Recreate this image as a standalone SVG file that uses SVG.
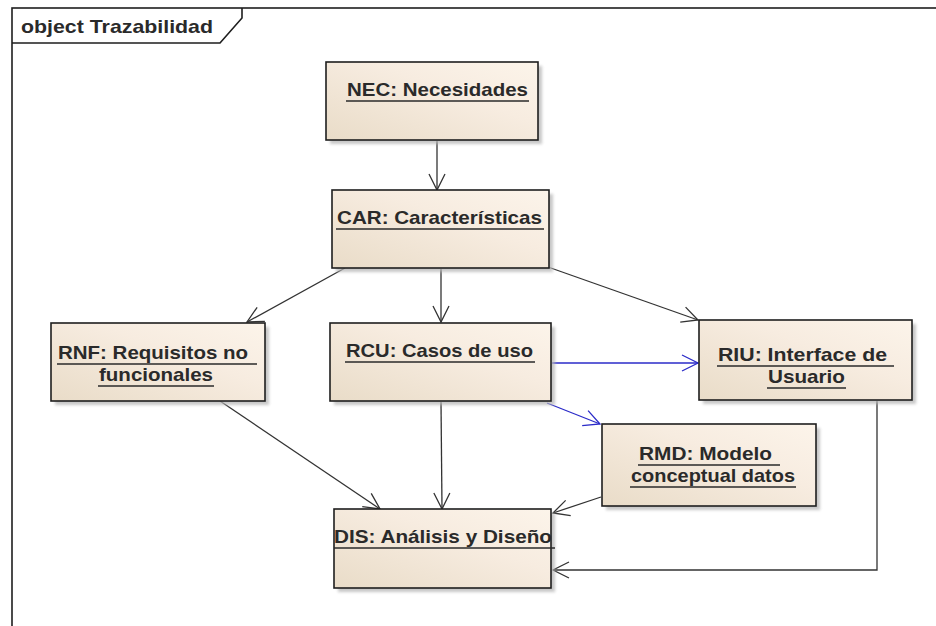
<svg xmlns="http://www.w3.org/2000/svg" width="936" height="626" viewBox="0 0 936 626">
<defs>
<linearGradient id="bg" x1="0" y1="1" x2="1" y2="0">
<stop offset="0" stop-color="#e9dcc8"/>
<stop offset="0.6" stop-color="#f7ece0"/>
<stop offset="1" stop-color="#fcf4ea"/>
</linearGradient>
<filter id="blur" x="-10%" y="-10%" width="120%" height="130%">
<feGaussianBlur stdDeviation="1.5"/>
</filter>
<marker id="ah" viewBox="0 0 20 20" refX="18" refY="10" markerWidth="20" markerHeight="20" markerUnits="userSpaceOnUse" orient="auto">
<path d="M2,2 L18,10 L2,18" fill="none" stroke="#333" stroke-width="1.3"/>
</marker>
<marker id="ahb" viewBox="0 0 20 20" refX="18" refY="10" markerWidth="20" markerHeight="20" markerUnits="userSpaceOnUse" orient="auto">
<path d="M2,2 L18,10 L2,18" fill="none" stroke="#2b2bc8" stroke-width="1.3"/>
</marker>
</defs>
<style>
.box{fill:url(#bg);stroke:#1e1e1e;stroke-width:1.6}
.sh{fill:#b5b5b5;opacity:0.75;filter:url(#blur)}
.t{font-family:"Liberation Sans",Arial,sans-serif;font-weight:bold;font-size:19px;fill:#2a2a2a}
.u{stroke:#2a2a2a;stroke-width:1.3}
.c{fill:none;stroke:#333;stroke-width:1.3;marker-end:url(#ah)}
.cb{fill:none;stroke:#2b2bc8;stroke-width:1.3;marker-end:url(#ahb)}
</style>
<rect width="936" height="626" fill="#ffffff"/>
<g id="frame">
<rect x="12" y="8" width="940" height="640" fill="none" stroke="#1e1e1e" stroke-width="1.6"/>
<polyline points="12,43 220,43 242,18 242,8" fill="none" stroke="#1e1e1e" stroke-width="1.6"/>
<text x="21" y="33" class="t" font-size="20" textLength="192" lengthAdjust="spacingAndGlyphs">object Trazabilidad</text>
</g>
<g id="connectors">
<line class="c" x1="437" y1="141" x2="437" y2="190"/>
<line class="c" x1="345" y1="268" x2="247" y2="322"/>
<line class="c" x1="441" y1="269" x2="441" y2="322"/>
<line class="c" x1="548" y1="267" x2="698" y2="320"/>
<line class="cb" x1="552" y1="363" x2="698" y2="363"/>
<line class="cb" x1="547" y1="403" x2="600" y2="424"/>
<line class="c" x1="220" y1="401" x2="380" y2="509"/>
<line class="c" x1="441" y1="402" x2="442" y2="509"/>
<line class="c" x1="601" y1="497" x2="553" y2="513"/>
<polyline class="c" points="877,401 877,570 553,570"/>
</g>
<g id="NEC">
<rect class="sh" x="330" y="66" width="212" height="78"/>
<rect class="box" x="326" y="62" width="212" height="78"/>
<text x="347" y="96" class="t" textLength="181" lengthAdjust="spacingAndGlyphs">NEC: Necesidades</text>
<line class="u" x1="346" y1="101" x2="529" y2="101"/>
</g>
<g id="CAR">
<rect class="sh" x="336" y="194" width="217" height="78"/>
<rect class="box" x="332" y="190" width="217" height="78"/>
<text x="337" y="224" class="t" textLength="205" lengthAdjust="spacingAndGlyphs">CAR: Características</text>
<line class="u" x1="336" y1="229" x2="544" y2="229"/>
</g>
<g id="RNF">
<rect class="sh" x="55" y="327" width="214" height="78"/>
<rect class="box" x="51" y="323" width="214" height="78"/>
<text x="58" y="359" class="t" textLength="190" lengthAdjust="spacingAndGlyphs">RNF: Requisitos no</text>
<line class="u" x1="57" y1="364" x2="257" y2="364"/>
<text x="99" y="381" class="t" textLength="114" lengthAdjust="spacingAndGlyphs">funcionales</text>
<line class="u" x1="98" y1="386" x2="214" y2="386"/>
</g>
<g id="RCU">
<rect class="sh" x="334" y="327" width="221" height="78"/>
<rect class="box" x="330" y="323" width="221" height="78"/>
<text x="346" y="357" class="t" textLength="187" lengthAdjust="spacingAndGlyphs">RCU: Casos de uso</text>
<line class="u" x1="345" y1="362" x2="535" y2="362"/>
</g>
<g id="RIU">
<rect class="sh" x="703" y="324" width="213" height="80"/>
<rect class="box" x="699" y="320" width="213" height="80"/>
<text x="718" y="361" class="t" textLength="169" lengthAdjust="spacingAndGlyphs">RIU: Interface de</text>
<line class="u" x1="717" y1="366" x2="894" y2="366"/>
<text x="768" y="383" class="t" textLength="77" lengthAdjust="spacingAndGlyphs">Usuario</text>
<line class="u" x1="767" y1="388" x2="846" y2="388"/>
</g>
<g id="RMD">
<rect class="sh" x="606" y="428" width="214" height="82"/>
<rect class="box" x="602" y="424" width="214" height="82"/>
<text x="639" y="460" class="t" textLength="133" lengthAdjust="spacingAndGlyphs">RMD: Modelo</text>
<line class="u" x1="638" y1="465" x2="780" y2="465"/>
<text x="631" y="482" class="t" textLength="164" lengthAdjust="spacingAndGlyphs">conceptual datos</text>
<line class="u" x1="630" y1="487" x2="796" y2="487"/>
</g>
<g id="DIS">
<rect class="sh" x="338" y="513" width="217" height="79"/>
<rect class="box" x="334" y="509" width="217" height="79"/>
<text x="334" y="543" class="t" textLength="218" lengthAdjust="spacingAndGlyphs">DIS: Análisis y Diseño</text>
<line class="u" x1="334" y1="548" x2="555" y2="548"/>
</g>
</svg>
